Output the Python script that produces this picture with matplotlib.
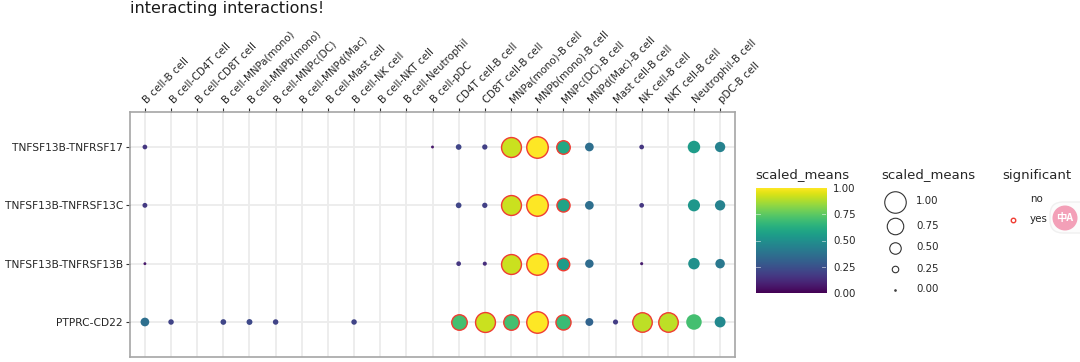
import numpy as np
import matplotlib
matplotlib.use("Agg")
import matplotlib.pyplot as plt
from matplotlib.patches import Circle, FancyBboxPatch
from matplotlib.transforms import ScaledTranslation

W, H = 1080, 362

pairs = ["B cell-B cell", "B cell-CD4T cell", "B cell-CD8T cell", "B cell-MNPa(mono)",
         "B cell-MNPb(mono)", "B cell-MNPc(DC)", "B cell-MNPd(Mac)", "B cell-Mast cell",
         "B cell-NK cell", "B cell-NKT cell", "B cell-Neutrophil", "B cell-pDC",
         "CD4T cell-B cell", "CD8T cell-B cell", "MNPa(mono)-B cell", "MNPb(mono)-B cell",
         "MNPc(DC)-B cell", "MNPd(Mac)-B cell", "Mast cell-B cell", "NK cell-B cell",
         "NKT cell-B cell", "Neutrophil-B cell", "pDC-B cell"]
interactions = ["PTPRC-CD22", "TNFSF13B-TNFRSF13B", "TNFSF13B-TNFRSF13C", "TNFSF13B-TNFRSF17"]

# column index, scaled mean, per interaction
tnfrsf17_x = [0, 11, 12, 13, 14, 15, 16, 17, 19, 21, 22]
tnfrsf17_v = [0.16, 0.07, 0.21, 0.19, 0.92, 1.0, 0.60, 0.36, 0.16, 0.55, 0.44]
tnfrsf13c_x = [0, 12, 13, 14, 15, 16, 17, 19, 21, 22]
tnfrsf13c_v = [0.17, 0.21, 0.19, 0.92, 1.0, 0.58, 0.36, 0.16, 0.53, 0.44]
tnfrsf13b_x = [0, 12, 13, 14, 15, 16, 17, 19, 21, 22]
tnfrsf13b_v = [0.07, 0.16, 0.13, 0.92, 1.0, 0.55, 0.35, 0.08, 0.50, 0.40]
ptprc_x = [0, 1, 3, 4, 5, 8, 12, 13, 14, 15, 16, 17, 18, 19, 20, 21, 22]
ptprc_v = [0.36, 0.20, 0.21, 0.22, 0.20, 0.20, 0.70, 0.92, 0.70, 1.0, 0.68, 0.32, 0.18, 0.90, 0.90, 0.70, 0.47]

# columns with a red outline
sig_top = [14, 15, 16]
sig_ptprc = [12, 13, 14, 15, 16, 19, 20]

rows = [(ptprc_x, ptprc_v, sig_ptprc), (tnfrsf13b_x, tnfrsf13b_v, sig_top),
        (tnfrsf13c_x, tnfrsf13c_v, sig_top), (tnfrsf17_x, tnfrsf17_v, sig_top)]

cbar_ticks = [0.0, 0.25, 0.5, 0.75, 1.0]
size_levels = [1.0, 0.75, 0.5, 0.25, 0.0]
sig_levels = ["no", "yes"]

TEXT = "#262626"
GRID = "#ececec"
FRAME = "#a6a6a6"
RED = "#f03c32"


def size_px(v):
    # marker diameter in pixels for a scaled mean
    return 1.5 + 20 * np.asarray(v, dtype=float)


def area(d):
    return (np.asarray(d) * 72 / 100) ** 2


fig = plt.figure(figsize=(W / 100, H / 100), dpi=100)
ax = fig.add_axes([130 / W, 1 - 357 / H, 605 / W, 245 / H])
ax.set_xlim(-0.57, 22.57)
ax.set_ylim(-0.6, 3.6)
ax.set_axisbelow(True)
ax.grid(color=GRID, linewidth=1.3)
cmap = plt.get_cmap("viridis")

for j, (xs, vs, sig) in enumerate(rows):
    for x, v in zip(xs, vs):
        edge = RED if x in sig else "none"
        ax.scatter(x, j, s=area(size_px(v)), color=cmap(v), edgecolors=edge,
                   linewidths=1.0, zorder=3)

ax.set_xticks(range(len(pairs)))
ax.set_xticklabels(pairs, rotation=45, ha="left", va="bottom",
                   rotation_mode="anchor", fontsize=7.4, color=TEXT)
ax.xaxis.tick_top()
ax.set_yticks(range(len(interactions)))
ax.set_yticklabels(interactions, fontsize=7.7, color=TEXT)
ax.tick_params(axis="both", length=3, width=0.8, color="#333333", pad=2)
# labels on top are label2, nudge them right of the tick (after tick_params, it resets them)
shift = ScaledTranslation(4 / 100, 0, fig.dpi_scale_trans)
for tick in ax.xaxis.get_major_ticks():
    tick.label2.set_transform(tick.label2.get_transform() + shift)
for s in ax.spines.values():
    s.set_color(FRAME)
    s.set_linewidth(1.2)

# colour bar
cax = fig.add_axes([755.5 / W, 1 - 293 / H, 70.5 / W, 105 / H])
cax.imshow(np.linspace(1, 0, 256).reshape(-1, 1), cmap=cmap, aspect="auto",
           extent=[0, 1, 0, 1], vmin=0, vmax=1, interpolation="bilinear")
cax.set_xticks([])
cax.yaxis.tick_right()
cax.set_yticks(cbar_ticks)
cax.set_yticklabels([f"{t:.2f}" for t in cbar_ticks], fontsize=7.4, color=TEXT)
cax.tick_params(axis="y", length=0, pad=5)
for s in cax.spines.values():
    s.set_visible(False)
for t in cbar_ticks[1:-1]:
    cax.plot([0, 0.06], [t, t], color="white", lw=0.6, alpha=0.6)
    cax.plot([0.94, 1], [t, t], color="white", lw=0.6, alpha=0.6)
cax.set_xlim(0, 1)
cax.set_ylim(0, 1)

# title and legends are placed in pixel coordinates on an overlay
ov = fig.add_axes([0, 0, 1, 1], facecolor="none")
ov.set_xlim(0, W)
ov.set_ylim(H, 0)
ov.axis("off")

ov.text(130, 8, "interacting interactions!", fontsize=11.5, color="#1a1a1a", va="center")

ov.text(755.5, 175, "scaled_means", fontsize=9.5, color=TEXT, va="center")
ov.text(881, 175, "scaled_means", fontsize=9.5, color=TEXT, va="center")
ov.text(1002, 175, "significant", fontsize=9.5, color=TEXT, va="center")

size_y = [201.5, 226, 247.5, 268.5, 289.5]
for y, lev in zip(size_y, size_levels):
    ov.scatter(895, y, s=area(size_px(lev)), facecolors="white", edgecolors="#333333",
               linewidths=0.8)
    ov.text(916, y, f"{lev:.2f}", fontsize=7.4, color=TEXT, va="center")

sig_y = [198.5, 219.5]
for y, lab in zip(sig_y, sig_levels):
    ov.text(1030, y, lab, fontsize=7.4, color=TEXT, va="center")
ov.scatter(1013, sig_y[1], s=area(4.5), facecolors="white", edgecolors=RED, linewidths=1.0)

# translate button sitting over the right edge
ov.add_patch(FancyBboxPatch((1050, 202), 50, 31, boxstyle="round,pad=0,rounding_size=13",
                            facecolor="#fcfcfc", edgecolor="#f0f0f0", lw=1.0, zorder=5))
ov.add_patch(Circle((1065, 218), 12.5, facecolor="#f3a0b8", edgecolor="none", zorder=6))
ov.text(1065, 218, "中A", fontsize=7.5, color="white", ha="center", va="center", zorder=7,
        fontweight="bold", family=["Noto Sans CJK SC", "DejaVu Sans"])

fig.savefig("out.png", dpi=100)
